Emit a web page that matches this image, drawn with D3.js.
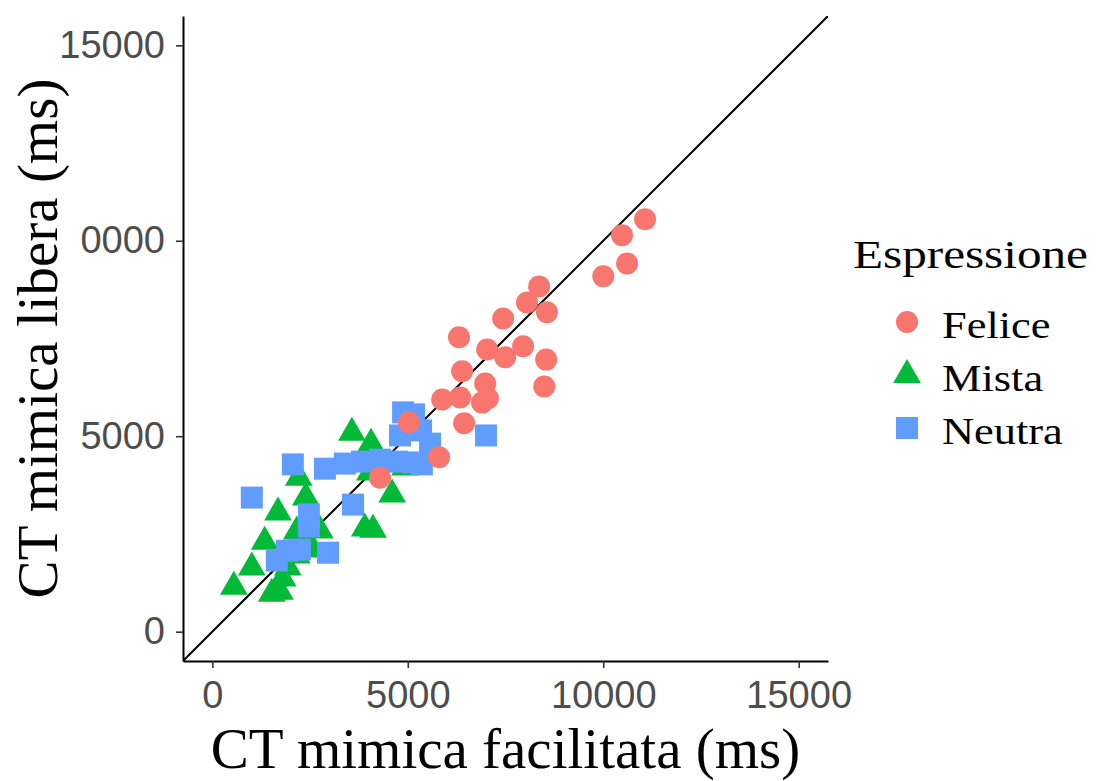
<!DOCTYPE html>
<meta charset="utf-8">
<style>
  body { margin: 0; background: #fff; }
  .tick text { font-family: "Liberation Sans", Arial, sans-serif; font-size: 38px; fill: #4D4D4D; }
  .axis-title { font-family: "Liberation Serif", "Times New Roman", serif; font-size: 57px; fill: #000; }
  .legend-title { font-family: "Liberation Serif", "Times New Roman", serif; font-size: 41px; fill: #000; }
  .legend-text { font-family: "Liberation Serif", "Times New Roman", serif; font-size: 37px; fill: #000; }
</style>
<svg width="1096" height="781"></svg>
<script src="https://cdn.jsdelivr.net/npm/d3@7"></script>
<script>

// CT mimica facilitata (x) vs CT mimica libera (y), ms
var felice = [
  [11070, 10550], [10480, 10140], [10610, 9420], [10000, 9090], [8360, 8830],
  [8050, 8420], [8560, 8170], [7440, 8010], [6310, 7530], [7030, 7220],
  [7490, 7020], [7950, 7300], [8540, 6960], [6390, 6660], [6980, 6350],
  [8490, 6270], [6340, 5990], [6900, 5860], [7050, 5970], [5880, 5940],
  [6440, 5330], [5030, 5350], [5800, 4460], [4290, 3940]
];
var mista = [
  [3570, 5090], [4060, 4810], [2210, 3940], [2390, 3430], [1680, 3050],
  [4600, 3510], [1340, 2300], [2160, 2560], [2750, 2590], [3900, 2640],
  [4110, 2610], [1010, 1640], [2160, 1950], [550, 1150], [1520, 970],
  [1730, 1020], [1930, 1640], [2570, 2100], [4930, 4200], [4030, 4070],
  [1800, 1360]
];
var neutra = [
  [4880, 5610], [5160, 5560], [4800, 5020], [5340, 5150], [7000, 5020],
  [5570, 4810], [2060, 4280], [2880, 4170], [3390, 4300], [3830, 4350],
  [4290, 4400], [4720, 4350], [5130, 4330], [5360, 4280], [1010, 3430],
  [3600, 3250], [2470, 3000], [2470, 2690], [1910, 2070], [2960, 2020],
  [1650, 1820], [2240, 2100]
];

var groups = ["Felice", "Mista", "Neutra"];
var colors = ["#F8766D", "#00BA38", "#619CFF"];
var xTicks = [0, 5000, 10000, 15000];
var xTickLabels = ["0", "5000", "10000", "15000"];
var yTicks = [0, 5000, 10000, 15000];
var yTickLabels = ["0", "5000", "0000", "15000"];
var limits = [0, 15000];

var svg = d3.select("svg");

var panelLeft = 183, panelTop = 16, panelSize = 645;
var pad = (limits[1] - limits[0]) * 0.05;

var x = d3.scaleLinear().domain([limits[0] - pad, limits[1] + pad]).range([panelLeft, panelLeft + panelSize]);
var y = d3.scaleLinear().domain([limits[0] - pad, limits[1] + pad]).range([panelTop + panelSize, panelTop]);

var color = d3.scaleOrdinal().domain(groups).range(colors);
var shape = d3.scaleOrdinal().domain(groups).range([d3.symbolCircle, d3.symbolTriangle, d3.symbolSquare]);
var shapeSize = d3.scaleOrdinal().domain(groups).range([Math.PI * 11 * 11, 332, 22 * 22]);

svg.append("clipPath").attr("id", "panel")
  .append("rect").attr("x", panelLeft).attr("y", panelTop).attr("width", panelSize).attr("height", panelSize);

// identity line
svg.append("line")
  .attr("clip-path", "url(#panel)")
  .attr("x1", x(limits[0] - pad)).attr("y1", y(limits[0] - pad))
  .attr("x2", x(limits[1] + pad)).attr("y2", y(limits[1] + pad))
  .attr("stroke", "#000").attr("stroke-width", 2);

function drawGroup(data, name) {
  svg.append("g").selectAll("path")
    .data(data).enter().append("path")
    .attr("transform", function(d) { return "translate(" + x(d[0]) + "," + y(d[1]) + ")"; })
    .attr("d", d3.symbol().type(shape(name)).size(shapeSize(name)))
    .attr("fill", color(name));
}
drawGroup(mista, "Mista");
drawGroup(neutra, "Neutra");
drawGroup(felice, "Felice");

// axes
var xAxis = svg.append("g")
  .attr("transform", "translate(0," + (panelTop + panelSize) + ")")
  .call(d3.axisBottom(x).tickValues(xTicks).tickSizeInner(7).tickSizeOuter(0).tickPadding(13)
    .tickFormat(function(d, i) { return xTickLabels[i]; }));
var yAxis = svg.append("g")
  .attr("transform", "translate(" + panelLeft + ",0)")
  .call(d3.axisLeft(y).tickValues(yTicks).tickSizeInner(7).tickSizeOuter(0).tickPadding(11)
    .tickFormat(function(d, i) { return yTickLabels[i]; }));

[xAxis, yAxis].forEach(function(a) {
  a.attr("font-size", null).attr("font-family", null);
  a.select(".domain").attr("stroke", "#000").attr("stroke-width", 2);
  a.selectAll(".tick line").attr("stroke", "#333").attr("stroke-width", 1.6);
  a.selectAll(".tick text").attr("fill", null);
});

svg.append("text").attr("class", "axis-title")
  .attr("x", panelLeft + panelSize / 2).attr("y", 768)
  .attr("text-anchor", "middle")
  .text("CT mimica facilitata (ms)");

svg.append("text").attr("class", "axis-title")
  .attr("transform", "translate(57," + (panelTop + panelSize / 2) + ") rotate(-90)")
  .attr("text-anchor", "middle")
  .text("CT mimica libera (ms)");

// legend
var legend = svg.append("g").attr("transform", "translate(853,0)");
legend.append("text").attr("class", "legend-title")
  .attr("transform", "translate(0,268) scale(1.2,1)")
  .text("Espressione");

var rows = legend.selectAll("g.row").data(groups).enter().append("g")
  .attr("class", "row")
  .attr("transform", function(d, i) { return "translate(0," + (322 + i * 53) + ")"; });
rows.append("path")
  .attr("transform", "translate(54,0)")
  .attr("d", function(d) { return d3.symbol().type(shape(d)).size(shapeSize(d))(); })
  .attr("fill", function(d) { return color(d); });
rows.append("text").attr("class", "legend-text")
  .attr("transform", "translate(89,16) scale(1.2,1)")
  .text(function(d) { return d; });

</script>
